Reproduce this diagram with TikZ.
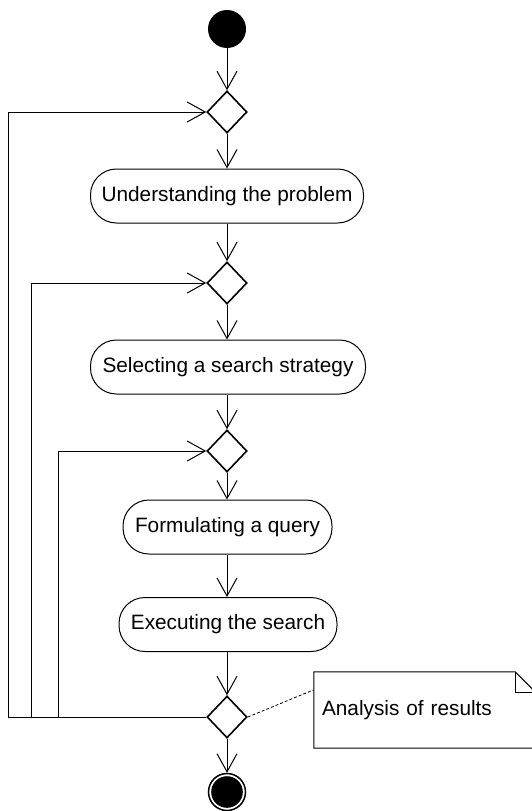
\documentclass[tikz,border=0pt]{standalone}
\usepackage{fontspec}
\setmainfont{Liberation Sans}
\usetikzlibrary{arrows.meta,shapes.geometric}
\begin{document}
\begin{tikzpicture}[x=1pt,y=-1pt,
  every node/.style={font=\fontsize{20.8}{24}\selectfont},
  act/.style={draw, line width=1pt, rounded corners=26pt, minimum height=54pt, inner sep=0pt},
  dec/.style={draw, diamond, line width=1.6pt, minimum width=40pt, minimum height=42pt, inner sep=0pt},
  flow/.style={line width=1pt, -{Straight Barb[length=18pt,width=20pt]}},
  ]
\useasboundingbox (0,0) rectangle (531,811);
\node[circle, fill=black, minimum size=38pt, inner sep=0pt] (start) at (227,29) {};
\node[dec] (d1) at (227,112) {};
\node[act, minimum width=273pt] (a1) at (227,196) {Understanding the problem};
\node[dec] (d2) at (227,283) {};
\node[act, minimum width=275pt] (a2) at (228,367) {Selecting a search strategy};
\node[dec] (d3) at (227,451) {};
\node[act, minimum width=209pt] (a3) at (227.5,527) {Formulating a query};
\node[act, minimum width=218pt] (a4) at (228,624.5) {Executing the search};
\node[dec] (d4) at (227,717) {};
\node[circle, draw, line width=1.5pt, minimum size=37pt, inner sep=0pt] (end) at (227,792) {};
\fill (end.center) circle (15.8pt);
\node[minimum width=222pt, minimum height=76pt, inner sep=0pt, inner xsep=8pt, text width=206pt, align=left] (note) at (425,710) {Analysis of results};
\draw[line width=1pt] (note.north west) -- ([xshift=-21pt]note.north east) -- ([yshift=-21pt]note.north east) -- (note.south east) -- (note.south west) -- cycle;
\draw[line width=1pt] ([xshift=-21pt]note.north east) |- ([yshift=-21pt]note.north east);
\draw[line width=0.8pt, dash pattern=on 3pt off 2pt] (d4.east) -- ([yshift=-18pt]note.north west);
\draw[flow] (start) -- (d1);
\draw[flow] (d1) -- (a1);
\draw[flow] (a1) -- (d2);
\draw[flow] (d2) -- (a2.north -| d2);
\draw[flow] (a2.south -| d2) -- (d3);
\draw[flow] (d3) -- (a3.north -| d3);
\draw[flow] (a3.south -| d3) -- (a4.north -| d3);
\draw[flow] (a4.south -| d4) -- (d4);
\draw[flow] (d4) -- (end);
\coordinate (l1) at (8,717);
\coordinate (l2) at (31,717);
\coordinate (l3) at (58,717);
\draw[flow] (d4.west) -- (l1) |- (d1.west);
\draw[flow] (l2) |- (d2.west);
\draw[flow] (l3) |- (d3.west);
\end{tikzpicture}
\end{document}
